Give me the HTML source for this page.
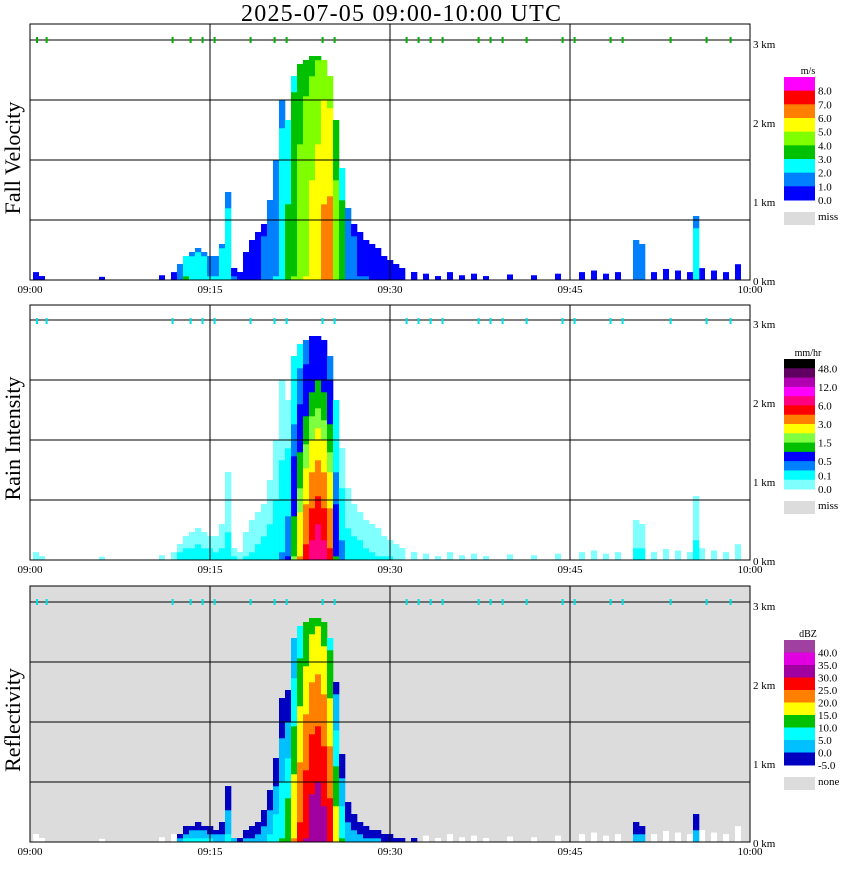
<!DOCTYPE html>
<html><head><meta charset="utf-8"><style>
body{margin:0;background:#fff;}
svg text{font-family:"Liberation Serif",serif;}
</style></head><body>
<svg id="c" width="850" height="868" xmlns="http://www.w3.org/2000/svg">
<text x="401" y="21" font-size="24" text-anchor="middle" textLength="320">2025-07-05  09:00-10:00 UTC</text>
</svg>
<script>
const minutes = [12.5,13,13.5,14,14.5,15,15.5,16,16.5,17,17.5,18,18.5,19,19.5,20,20.5,21,21.5,22,22.5,23,23.5,24,24.5,25,25.5,26,26.5,27,27.5,28,28.5,29,29.5,30,30.5,31,32,50.5,51,55.5];
const echoTopKm = [0.2,0.3,0.35,0.4,0.35,0.3,0.3,0.45,1.1,0.15,0.1,0.35,0.5,0.6,0.7,1.0,1.5,2.3,2.0,2.6,2.75,2.8,2.85,2.85,2.8,2.6,2.0,1.4,0.9,0.7,0.6,0.5,0.45,0.4,0.3,0.25,0.2,0.15,0.1,0.5,0.45,0.8];
const peakVelocity = [1.5,3,2.5,2.5,2.5,2,2,2.5,2.5,1,0.5,0.5,0.5,0.8,1.2,1.5,2,2.5,3.2,4,4.5,5,5.3,5.6,6.2,6.3,4.5,3.5,1.5,1.2,1,1,0.8,0.8,0.6,0.6,0.5,0.5,0.5,1.5,1.5,2.5];
const peakRain = [0.2,0.2,0.2,0.2,0.2,0.2,0.15,0.15,0.15,0.1,0.05,0.1,0.1,0.15,0.2,0.2,0.25,0.3,0.5,1.5,3,5,7,8,7,5,1,0.4,0.2,0.2,0.2,0.15,0.1,0.1,0.1,0.08,0.05,0.05,0.05,0.15,0.15,0.15];
const peakDbz = [3,5,5,5,5,5,3,3,6,0,-3,0,0,2,4,6,8,10,14,20,26,30,33,34,32,28,18,10,4,3,2,1,0,0,-2,-2,-3,-3,-3,2,2,2];
const clutterMinutes = [0.5,1,6,11,12,28,29,30,33,34,35,36,37,38,40,42,44,46,47,48,49,52,53,54,55,56,57,58,59];
const clutterTopKm = [0.1,0.05,0.04,0.06,0.1,0.15,0.12,0.1,0.08,0.05,0.1,0.06,0.08,0.05,0.07,0.06,0.08,0.1,0.12,0.08,0.1,0.1,0.14,0.12,0.1,0.15,0.12,0.1,0.2];
const timeTicks = ["09:00","09:15","09:30","09:45","10:00"];
const heightTicks = ["0 km","1 km","2 km","3 km"];
const velBounds=[0,1,2,3,4,5,6,7,8];
const velColors=['#0000ff','#0080ff','#00ffff','#00c000','#80ff00','#ffff00','#ff8000','#ff0000','#ff00ff'];
const rainBounds=[0,0.1,0.3,0.5,1,1.5,2,3,4.5,6,9,12,24,48];
const rainColors=['#80ffff','#00ffff','#0080ff','#0000ff','#00c000','#80ff40','#ffff00','#ff8000','#ff0000','#ff0080','#ff00ff','#b000b0','#600060','#000000'];
const dbzBounds=[-5,0,5,10,15,20,25,30,35,40];
const dbzColors=['#0000c0','#00c0ff','#00ffff','#00c000','#ffff00','#ff8000','#ff0000','#a000a0','#e000e0','#a040a0'];

const svg=document.getElementById('c');
const NS='http://www.w3.org/2000/svg';
function mk(tag,attrs,parent){const e=document.createElementNS(NS,tag);for(const k in attrs)e.setAttribute(k,attrs[k]);(parent||svg).appendChild(e);return e;}
const X0=30,X1=750;
function xScale(m){return X0+(X1-X0)*m/60;}
function colorFor(v,bounds,colors){let c=null;for(let i=0;i<bounds.length;i++){if(v>=bounds[i])c=colors[i];}return c;}

const panels=[
 {top:24,bot:280,name:'fall-velocity',label:'Fall Velocity',bg:'#ffffff',bounds:velBounds,colors:velColors,peak:peakVelocity,
  prof:(p,f)=>p*(1-0.3*f*f),clutter:'#0000ff',unit:'m/s',legTop:77,legH:123,labels:['8.0','7.0','6.0','5.0','4.0','3.0','2.0','1.0','0.0'],miss:'miss',markColor:'#00b000'},
 {top:305,bot:560,name:'rain-intensity',label:'Rain Intensity',bg:'#ffffff',bounds:rainBounds,colors:rainColors,peak:peakRain,
  prof:(p,f)=>p*0.08+p*0.92*(1-f)*(1-f)+0.02,clutter:'#80ffff',unit:'mm/hr',legTop:359,legH:130,labels:['48.0','','12.0','','6.0','','3.0','','1.5','','0.5','','0.1','0.0'],miss:'miss',markColor:'#00e0e0'},
 {top:586,bot:842,name:'reflectivity',label:'Reflectivity',bg:'#dcdcdc',bounds:dbzBounds,colors:dbzColors,peak:peakDbz,
  prof:(p,f)=>p-20*Math.pow(f,1.2),clutter:'#ffffff',unit:'dBZ',legTop:640,legH:125,labels:['40.0','35.0','30.0','25.0','20.0','15.0','10.0','5.0','0.0','-5.0'],miss:'none',markColor:'#00e0e0'}
];
const KM=79;
panels.forEach((P,pi)=>{
  const g=mk('g',{});
  
  
  const bg=mk('rect',{x:X0,y:P.top,width:X1-X0,height:P.bot-P.top,fill:P.bg},g);
  
  
  for(let i=0;i<clutterMinutes.length;i++){
    const h=clutterTopKm[i]*KM;
    const r=mk('rect',{x:xScale(clutterMinutes[i])-3,y:P.bot-h,width:6,height:h,fill:P.clutter},g);
    
    
  }
  for(let i=0;i<minutes.length;i++){
    const cx=xScale(minutes[i]);
    const top=echoTopKm[i];
    const nC=Math.max(1,Math.round(top*KM/4));
    for(let k=0;k<nC;k++){
      const h=k*4/KM;const f=h/Math.max(top,0.01);
      const v=P.prof(P.peak[i],f);
      const col=colorFor(v,P.bounds,P.colors);
      if(!col)continue;
      const r=mk('rect',{x:cx-3,y:P.bot-(k+1)*4,width:6.3,height:4.3,fill:col},g);
      
      
    }
  }
  for(let j=1;j<=4;j++){const y=P.bot-60*j;const l=mk('line',{x1:X0,x2:X1,y1:y,y2:y,stroke:'#000','stroke-width':1},g);}
  for(let j=1;j<4;j++){const x=xScale(j*15);const l=mk('line',{x1:x,x2:x,y1:P.top,y2:P.bot,stroke:'#000','stroke-width':1},g);}
  const fr=mk('rect',{x:X0,y:P.top,width:X1-X0,height:P.bot-P.top,fill:'none',stroke:'#000','stroke-width':1},g);
  
  [0.2,1,11.5,13,14,15,18,20,21,24,25,31,32,33,34,37,38,39,41,44,45,48,49,53,56,58].forEach(m=>{
    const r=mk('rect',{x:xScale(m+0.3),y:P.top+13,width:2,height:6,fill:P.markColor},g);
    
  });
  timeTicks.forEach((t,j)=>{const e=mk('text',{x:xScale(j*15),y:P.bot+13,'font-size':11,'text-anchor':'middle'},g);e.textContent=t;});
  heightTicks.forEach((t,j)=>{const e=mk('text',{x:753,y:P.bot-j*KM+5,'font-size':11},g);e.textContent=t;});
  const yl=mk('text',{x:0,y:0,'font-size':22,'text-anchor':'middle',transform:`translate(20,${(P.top+P.bot)/2+6}) rotate(-90)`},g);
  yl.textContent=P.label;
  const n=P.colors.length,bh=P.legH/n;
  for(let j=0;j<n;j++){const r=mk('rect',{x:784,y:P.legTop+j*bh,width:31,height:bh+0.5,fill:P.colors[n-1-j]},g);}
  P.labels.forEach((t,j)=>{if(!t)return;let y=P.legTop+(j+1)*bh+4;if(pi==1&&j==13)y=P.legTop+P.legH+4;if(pi==1&&j==12)y-=4;const e=mk('text',{x:818,y:y,'font-size':11},g);e.textContent=t;});
  const u=mk('text',{x:808,y:P.legTop-3,'font-size':10,'text-anchor':'middle'},g);u.textContent=P.unit;
  const mr=mk('rect',{x:784,y:P.legTop+P.legH+12,width:31,height:13,fill:'#dcdcdc'},g);
  const mt=mk('text',{x:818,y:P.legTop+P.legH+20,'font-size':11},g);mt.textContent=P.miss;
});
</script>
</body></html>
